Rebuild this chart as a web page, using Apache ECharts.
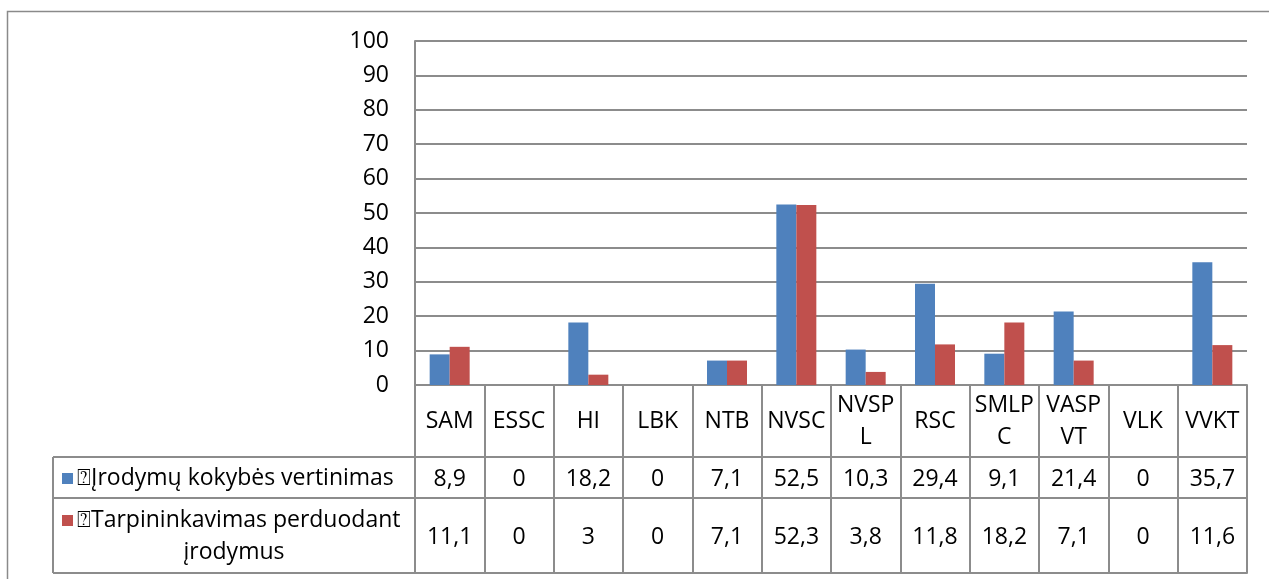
<!DOCTYPE html>
<html>
<head>
<meta charset="utf-8">
<style>
  html, body { margin: 0; padding: 0; background: #fff; }
  #chart { width: 1269px; height: 579px; }
</style>
<script src="https://cdn.jsdelivr.net/npm/echarts@6/dist/echarts.min.js"></script>
</head>
<body>
<div id="chart"></div>
<script>
// Institutions (columns of the data table)
const categories = ['SAM', 'ESSC', 'HI', 'LBK', 'NTB', 'NVSC', 'NVSPL', 'RSC', 'SMLPC', 'VASPVT', 'VLK', 'VVKT'];
// Series values, %
const qualityValues = [8.9, 0, 18.2, 0, 7.1, 52.5, 10.3, 29.4, 9.1, 21.4, 0, 35.7];
const mediationValues = [11.1, 0, 3, 0, 7.1, 52.3, 3.8, 11.8, 18.2, 7.1, 0, 11.6];
const seriesNames = ['\u2370Įrodymų kokybės vertinimas', '\u2370Tarpininkavimas perduodant įrodymus'];
const seriesLegendLines = [['\u2370Įrodymų kokybės vertinimas'], ['\u2370Tarpininkavimas perduodant', 'įrodymus']];
// Value axis scale
const yMin = 0, yMax = 100, yStep = 10;

const colors = ['#4F81BD', '#C0504D'];
const lineColor = '#8c8c8c';
const fontFamily = '"Open Sans", Lato, sans-serif';
const fontSize = 23;

// Layout of the plot and the data table beneath it
const W = 1269, H = 579;
const grid = { left: 415, right: 22, top: 41, bottom: 194 };
const plotBottom = H - grid.bottom;     // y of the value 0
const catRowH = 72, row1H = 41, row2H = 75;
const legendColLeft = 53;

const fmt = v => String(v).replace('.', ',');
const wrapName = s => s.length > 4 ? s.slice(0, 4) + '\n' + s.slice(4) : s;

const chart = echarts.init(document.getElementById('chart'), null, { renderer: 'canvas' });

const lineStyle = { color: lineColor, width: 2 };
const labelBase = { color: '#000', fontFamily, fontSize, verticalAlign: 'middle', align: 'center', interval: 0 };

function tableAxis(offset, values, margin) {
  return {
    type: 'category', data: categories, position: 'bottom', gridIndex: 0,
    offset,
    axisLine: { show: true, lineStyle },
    axisTick: { show: false },
    axisLabel: values ? Object.assign({}, labelBase, { margin, formatter: (v, i) => fmt(values[i]) }) : { show: false },
    splitLine: { show: false }
  };
}

// Legend cells to the left of the value rows
const row1Top = plotBottom + catRowH;
const row2Top = row1Top + row1H;
const tableBottom = row2Top + row2H;
const legendTextW = grid.left - legendColLeft;
const graphics = [
  // outer chart border
  { type: 'rect', shape: { x: 7.5, y: 11.5, width: W, height: H }, style: { fill: 'none', stroke: '#8a8a8a', lineWidth: 1.5 }, silent: true },
  // legend column borders
  { type: 'line', shape: { x1: legendColLeft, y1: row1Top, x2: grid.left, y2: row1Top }, style: { stroke: lineColor, lineWidth: 2 } },
  { type: 'line', shape: { x1: legendColLeft, y1: row2Top, x2: grid.left, y2: row2Top }, style: { stroke: lineColor, lineWidth: 2 } },
  { type: 'line', shape: { x1: legendColLeft, y1: tableBottom, x2: grid.left, y2: tableBottom }, style: { stroke: lineColor, lineWidth: 2 } },
  { type: 'line', shape: { x1: legendColLeft, y1: row1Top, x2: legendColLeft, y2: tableBottom }, style: { stroke: lineColor, lineWidth: 2 } }
];
[[row1Top, row1H], [row2Top, row2H]].forEach(([top, h], si) => {
  const lines = seriesLegendLines[si];
  const lh = 32;
  const blockTop = top + h / 2 - lines.length * lh / 2 + 1;
  graphics.push({ type: 'rect', shape: { x: 62, y: blockTop + lh / 2 - 5.5, width: 11, height: 11 }, style: { fill: colors[si] } });
  lines.forEach((t, li) => {
    graphics.push({
      type: 'text',
      x: li === 0 ? 77 : legendColLeft + legendTextW / 2,
      y: blockTop + lh * li + lh / 2,
      style: { text: t, fill: '#000', font: fontSize + 'px ' + fontFamily, textAlign: li === 0 ? 'left' : 'center', textVerticalAlign: 'middle' }
    });
  });
});

chart.setOption({
  animation: false,
  backgroundColor: '#fff',
  grid: Object.assign({ containLabel: false, outerBoundsMode: 'none' }, grid),
  xAxis: [
    {
      type: 'category', data: categories, position: 'bottom',
      axisLine: { show: true, lineStyle },
      axisTick: { show: true, length: catRowH + row1H + row2H, interval: 0, lineStyle },
      axisLabel: Object.assign({}, labelBase, { margin: catRowH / 2, lineHeight: 32, formatter: wrapName }),
      splitLine: { show: false }
    },
    tableAxis(catRowH, qualityValues, row1H / 2 + 1.5),
    tableAxis(catRowH + row1H, mediationValues, row2H / 2 + 1.5),
    tableAxis(catRowH + row1H + row2H, null, 0)
  ],
  yAxis: {
    type: 'value', min: yMin, max: yMax, interval: yStep,
    axisLine: { show: true, lineStyle },
    axisTick: { show: false },
    axisLabel: { color: '#000', fontFamily, fontSize, margin: 26 },
    splitLine: { show: true, lineStyle: { color: lineColor, width: 2 } }
  },
  graphic: graphics,
  series: [
    { name: seriesNames[0], type: 'bar', data: qualityValues, barWidth: 20, barGap: '0%', itemStyle: { color: colors[0] } },
    { name: seriesNames[1], type: 'bar', data: mediationValues, barWidth: 20, barGap: '0%', itemStyle: { color: colors[1] } }
  ]
});
</script>
</body>
</html>
